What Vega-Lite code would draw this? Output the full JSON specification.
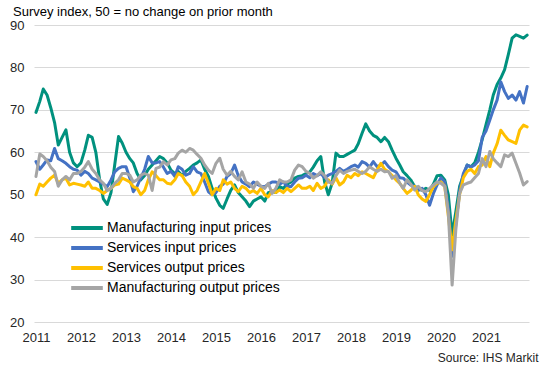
{
  "$schema": "https://vega.github.io/schema/vega-lite/v6.json",
  "width": 495,
  "height": 297,
  "autosize": {"type": "none"},
  "padding": {"left": 34, "top": 25, "right": 18, "bottom": 49},
  "background": "white",
  "title": {"text": "Survey index, 50 = no change on prior month", "anchor": "start", "frame": "group", "dx": -21, "offset": 0, "dy": 0, "font": "Liberation Sans", "fontSize": 13, "fontWeight": "normal", "color": "#000000"},
  "config": {"view": {"stroke": null}, "font": "Liberation Sans"},
  "data": {"values": [
    {"d":"2011-01-01","mi":69.4,"si":57.8,"so":50.0,"mo":54.3},
    {"d":"2011-02-01","mi":72.0,"si":56.0,"so":52.5,"mo":59.6},
    {"d":"2011-03-01","mi":74.9,"si":57.0,"so":52.0,"mo":59.0},
    {"d":"2011-04-01","mi":73.5,"si":58.2,"so":53.0,"mo":58.0},
    {"d":"2011-05-01","mi":70.5,"si":58.0,"so":53.9,"mo":56.5},
    {"d":"2011-06-01","mi":67.0,"si":60.9,"so":54.6,"mo":55.5},
    {"d":"2011-07-01","mi":61.7,"si":58.5,"so":52.7,"mo":52.0},
    {"d":"2011-08-01","mi":63.5,"si":58.0,"so":53.5,"mo":53.5},
    {"d":"2011-09-01","mi":65.3,"si":57.4,"so":53.9,"mo":54.3},
    {"d":"2011-10-01","mi":60.0,"si":56.6,"so":52.3,"mo":53.5},
    {"d":"2011-11-01","mi":57.5,"si":56.0,"so":52.7,"mo":55.0},
    {"d":"2011-12-01","mi":56.6,"si":55.8,"so":52.5,"mo":55.0},
    {"d":"2012-01-01","mi":57.5,"si":54.6,"so":52.3,"mo":55.5},
    {"d":"2012-02-01","mi":60.5,"si":55.5,"so":52.0,"mo":56.5},
    {"d":"2012-03-01","mi":64.0,"si":55.0,"so":53.0,"mo":57.8},
    {"d":"2012-04-01","mi":63.5,"si":53.9,"so":51.5,"mo":56.0},
    {"d":"2012-05-01","mi":60.0,"si":53.5,"so":51.5,"mo":55.0},
    {"d":"2012-06-01","mi":53.5,"si":53.0,"so":51.0,"mo":53.5},
    {"d":"2012-07-01","mi":49.0,"si":52.5,"so":50.3,"mo":52.7},
    {"d":"2012-08-01","mi":47.7,"si":51.9,"so":51.0,"mo":51.0},
    {"d":"2012-09-01","mi":50.5,"si":53.5,"so":51.5,"mo":51.5},
    {"d":"2012-10-01","mi":57.0,"si":55.4,"so":52.3,"mo":52.7},
    {"d":"2012-11-01","mi":63.7,"si":56.2,"so":52.5,"mo":53.5},
    {"d":"2012-12-01","mi":62.2,"si":56.6,"so":53.9,"mo":55.0},
    {"d":"2013-01-01","mi":60.0,"si":56.6,"so":53.5,"mo":55.0},
    {"d":"2013-02-01","mi":58.5,"si":53.9,"so":53.0,"mo":54.6},
    {"d":"2013-03-01","mi":57.5,"si":50.7,"so":51.9,"mo":53.0},
    {"d":"2013-04-01","mi":55.0,"si":52.0,"so":51.5,"mo":53.5},
    {"d":"2013-05-01","mi":53.5,"si":54.0,"so":50.0,"mo":54.6},
    {"d":"2013-06-01","mi":54.5,"si":56.0,"so":51.0,"mo":55.0},
    {"d":"2013-07-01","mi":56.0,"si":59.0,"so":53.5,"mo":54.6},
    {"d":"2013-08-01","mi":57.0,"si":57.5,"so":55.4,"mo":51.0},
    {"d":"2013-09-01","mi":58.0,"si":57.5,"so":54.5,"mo":56.2},
    {"d":"2013-10-01","mi":59.0,"si":57.8,"so":53.5,"mo":56.5},
    {"d":"2013-11-01","mi":58.5,"si":56.5,"so":53.5,"mo":57.8},
    {"d":"2013-12-01","mi":57.5,"si":55.0,"so":52.7,"mo":57.0},
    {"d":"2014-01-01","mi":55.8,"si":55.5,"so":52.5,"mo":58.2},
    {"d":"2014-02-01","mi":55.0,"si":54.3,"so":53.5,"mo":58.5},
    {"d":"2014-03-01","mi":55.5,"si":56.6,"so":55.0,"mo":59.8},
    {"d":"2014-04-01","mi":54.5,"si":56.0,"so":54.5,"mo":60.5},
    {"d":"2014-05-01","mi":55.5,"si":54.6,"so":53.0,"mo":60.0},
    {"d":"2014-06-01","mi":56.2,"si":55.0,"so":52.0,"mo":60.9},
    {"d":"2014-07-01","mi":57.0,"si":56.6,"so":50.0,"mo":60.5},
    {"d":"2014-08-01","mi":57.5,"si":55.4,"so":51.0,"mo":59.5},
    {"d":"2014-09-01","mi":58.2,"si":55.0,"so":53.0,"mo":58.6},
    {"d":"2014-10-01","mi":56.0,"si":53.0,"so":55.0,"mo":57.0},
    {"d":"2014-11-01","mi":54.3,"si":50.7,"so":52.7,"mo":55.8},
    {"d":"2014-12-01","mi":51.5,"si":50.0,"so":50.0,"mo":55.0},
    {"d":"2015-01-01","mi":49.2,"si":50.5,"so":51.5,"mo":57.4},
    {"d":"2015-02-01","mi":47.5,"si":52.0,"so":51.0,"mo":58.6},
    {"d":"2015-03-01","mi":46.8,"si":52.5,"so":53.5,"mo":56.0},
    {"d":"2015-04-01","mi":49.0,"si":54.3,"so":52.5,"mo":54.6},
    {"d":"2015-05-01","mi":51.0,"si":55.0,"so":53.0,"mo":55.5},
    {"d":"2015-06-01","mi":52.3,"si":57.0,"so":51.5,"mo":54.3},
    {"d":"2015-07-01","mi":50.5,"si":54.5,"so":50.7,"mo":53.5},
    {"d":"2015-08-01","mi":49.5,"si":53.0,"so":52.0,"mo":55.4},
    {"d":"2015-09-01","mi":48.5,"si":52.5,"so":51.5,"mo":53.0},
    {"d":"2015-10-01","mi":47.2,"si":51.9,"so":50.5,"mo":52.5},
    {"d":"2015-11-01","mi":48.5,"si":53.0,"so":51.0,"mo":51.5},
    {"d":"2015-12-01","mi":49.0,"si":52.5,"so":50.3,"mo":53.0},
    {"d":"2016-01-01","mi":49.5,"si":52.0,"so":51.5,"mo":52.0},
    {"d":"2016-02-01","mi":48.5,"si":51.9,"so":50.0,"mo":51.5},
    {"d":"2016-03-01","mi":50.5,"si":52.5,"so":49.5,"mo":52.7},
    {"d":"2016-04-01","mi":50.8,"si":53.0,"so":51.0,"mo":50.3},
    {"d":"2016-05-01","mi":50.5,"si":53.0,"so":50.5,"mo":51.5},
    {"d":"2016-06-01","mi":51.9,"si":52.5,"so":51.1,"mo":53.5},
    {"d":"2016-07-01","mi":51.5,"si":53.0,"so":50.5,"mo":53.0},
    {"d":"2016-08-01","mi":52.5,"si":52.0,"so":51.5,"mo":53.0},
    {"d":"2016-09-01","mi":53.0,"si":51.9,"so":50.7,"mo":53.5},
    {"d":"2016-10-01","mi":53.9,"si":53.0,"so":51.5,"mo":55.8},
    {"d":"2016-11-01","mi":54.3,"si":53.9,"so":52.3,"mo":57.0},
    {"d":"2016-12-01","mi":54.5,"si":54.0,"so":51.5,"mo":56.6},
    {"d":"2017-01-01","mi":55.0,"si":54.6,"so":51.5,"mo":55.5},
    {"d":"2017-02-01","mi":55.4,"si":54.0,"so":52.0,"mo":55.0},
    {"d":"2017-03-01","mi":56.5,"si":55.0,"so":51.0,"mo":53.9},
    {"d":"2017-04-01","mi":58.0,"si":54.5,"so":52.7,"mo":54.5},
    {"d":"2017-05-01","mi":59.0,"si":55.0,"so":51.5,"mo":55.4},
    {"d":"2017-06-01","mi":53.0,"si":54.0,"so":52.0,"mo":54.5},
    {"d":"2017-07-01","mi":50.0,"si":54.6,"so":53.5,"mo":53.0},
    {"d":"2017-08-01","mi":52.7,"si":55.0,"so":52.5,"mo":52.7},
    {"d":"2017-09-01","mi":59.8,"si":55.5,"so":54.0,"mo":54.5},
    {"d":"2017-10-01","mi":59.0,"si":56.2,"so":52.3,"mo":55.8},
    {"d":"2017-11-01","mi":59.0,"si":55.5,"so":53.0,"mo":55.0},
    {"d":"2017-12-01","mi":59.5,"si":56.0,"so":54.6,"mo":55.5},
    {"d":"2018-01-01","mi":60.0,"si":56.6,"so":54.0,"mo":55.8},
    {"d":"2018-02-01","mi":60.5,"si":57.0,"so":55.0,"mo":56.0},
    {"d":"2018-03-01","mi":62.0,"si":56.5,"so":54.5,"mo":55.5},
    {"d":"2018-04-01","mi":64.5,"si":57.8,"so":55.4,"mo":55.0},
    {"d":"2018-05-01","mi":66.7,"si":57.4,"so":55.0,"mo":55.5},
    {"d":"2018-06-01","mi":65.0,"si":56.5,"so":54.5,"mo":56.6},
    {"d":"2018-07-01","mi":64.0,"si":57.8,"so":54.0,"mo":56.0},
    {"d":"2018-08-01","mi":63.5,"si":56.6,"so":55.8,"mo":55.5},
    {"d":"2018-09-01","mi":62.5,"si":57.0,"so":57.4,"mo":56.0},
    {"d":"2018-10-01","mi":63.5,"si":57.8,"so":56.0,"mo":55.4},
    {"d":"2018-11-01","mi":62.5,"si":56.6,"so":55.4,"mo":55.5},
    {"d":"2018-12-01","mi":60.5,"si":55.8,"so":54.5,"mo":53.9},
    {"d":"2019-01-01","mi":58.6,"si":55.4,"so":53.5,"mo":54.5},
    {"d":"2019-02-01","mi":57.0,"si":54.0,"so":52.7,"mo":52.7},
    {"d":"2019-03-01","mi":55.4,"si":53.9,"so":51.5,"mo":51.5},
    {"d":"2019-04-01","mi":54.5,"si":53.0,"so":50.3,"mo":53.5},
    {"d":"2019-05-01","mi":53.5,"si":52.3,"so":51.0,"mo":52.5},
    {"d":"2019-06-01","mi":52.0,"si":52.0,"so":52.0,"mo":51.1},
    {"d":"2019-07-01","mi":51.5,"si":51.0,"so":50.0,"mo":52.0},
    {"d":"2019-08-01","mi":51.0,"si":51.5,"so":49.0,"mo":51.0},
    {"d":"2019-09-01","mi":51.5,"si":50.0,"so":48.4,"mo":50.7},
    {"d":"2019-10-01","mi":51.0,"si":47.5,"so":50.0,"mo":51.5},
    {"d":"2019-11-01","mi":52.5,"si":50.3,"so":51.9,"mo":52.3},
    {"d":"2019-12-01","mi":54.5,"si":52.3,"so":52.7,"mo":53.0},
    {"d":"2020-01-01","mi":54.6,"si":54.0,"so":53.0,"mo":52.7},
    {"d":"2020-02-01","mi":53.5,"si":53.0,"so":52.0,"mo":52.0},
    {"d":"2020-03-01","mi":50.0,"si":47.0,"so":45.0,"mo":45.7},
    {"d":"2020-04-01","mi":40.5,"si":35.5,"so":37.0,"mo":28.7},
    {"d":"2020-05-01","mi":46.0,"si":43.0,"so":44.0,"mo":41.7},
    {"d":"2020-06-01","mi":52.0,"si":51.0,"so":50.0,"mo":50.3},
    {"d":"2020-07-01","mi":54.5,"si":55.0,"so":54.0,"mo":52.3},
    {"d":"2020-08-01","mi":57.0,"si":57.0,"so":55.5,"mo":52.7},
    {"d":"2020-09-01","mi":56.6,"si":56.5,"so":56.0,"mo":53.0},
    {"d":"2020-10-01","mi":57.5,"si":57.0,"so":55.0,"mo":54.0},
    {"d":"2020-11-01","mi":60.0,"si":58.0,"so":56.6,"mo":55.0},
    {"d":"2020-12-01","mi":63.0,"si":63.5,"so":57.0,"mo":58.5},
    {"d":"2021-01-01","mi":66.5,"si":65.0,"so":59.0,"mo":56.6},
    {"d":"2021-02-01","mi":70.0,"si":67.6,"so":56.6,"mo":60.2},
    {"d":"2021-03-01","mi":73.5,"si":70.0,"so":59.8,"mo":58.5},
    {"d":"2021-04-01","mi":76.0,"si":72.3,"so":62.0,"mo":57.5},
    {"d":"2021-05-01","mi":77.5,"si":76.6,"so":65.2,"mo":56.6},
    {"d":"2021-06-01","mi":79.5,"si":74.3,"so":64.0,"mo":59.4},
    {"d":"2021-07-01","mi":83.0,"si":72.7,"so":62.9,"mo":59.0},
    {"d":"2021-08-01","mi":86.9,"si":73.5,"so":62.5,"mo":59.8},
    {"d":"2021-09-01","mi":87.7,"si":72.3,"so":62.1,"mo":57.4},
    {"d":"2021-10-01","mi":87.3,"si":74.3,"so":65.2,"mo":55.1},
    {"d":"2021-11-01","mi":86.9,"si":71.6,"so":66.4,"mo":52.3},
    {"d":"2021-12-01","mi":87.6,"si":75.5,"so":66.0,"mo":53.1}
  ]},
  "transform": [{"fold": ["mi", "si", "so", "mo"], "as": ["s", "v"]}],
  "mark": {"type": "line", "strokeWidth": 3, "strokeJoin": "round", "strokeCap": "round"},
  "encoding": {
    "x": {
      "field": "d", "type": "temporal",
      "scale": {"domain": [{"year": 2010, "month": 12, "date": 16}, {"year": 2021, "month": 12, "date": 16}]},
      "axis": {"format": "%Y", "tickCount": {"interval": "year", "step": 1}, "grid": false, "domain": false, "ticks": false, "labelPadding": 9, "labelFontSize": 13, "labelColor": "#262626", "labelFlush": false, "labelOverlap": false,
        "title": "Source: IHS Markit", "titleAnchor": "end", "titleAlign": "right", "titleX": 504, "titleY": 35, "titleBaseline": "middle", "titleFontSize": 12, "titleFontWeight": "normal", "titleColor": "#262626"}
    },
    "y": {
      "field": "v", "type": "quantitative",
      "scale": {"domain": [20, 90], "nice": false, "zero": false},
      "axis": {"values": [20, 30, 40, 50, 60, 70, 80, 90], "title": null, "domain": false, "ticks": false, "labelPadding": 10, "labelFontSize": 13, "labelColor": "#262626", "gridColor": "#D9D9D9", "gridWidth": 1}
    },
    "color": {
      "field": "s", "type": "nominal",
      "scale": {"domain": ["mi", "si", "so", "mo"], "range": ["#00917E", "#4472C4", "#FFC000", "#A5A5A5"]},
      "legend": {"title": null, "orient": "none", "legendX": 35, "legendY": 193, "symbolType": "stroke", "symbolStrokeWidth": 4, "symbolSize": 1000, "labelFontSize": 14, "labelColor": "#000000", "labelOffset": 2, "labelLimit": 400, "rowPadding": 0, "clipHeight": 20, "padding": 0,
        "labelExpr": "datum.label == 'mi' ? 'Manufacturing input prices' : datum.label == 'si' ? 'Services input prices' : datum.label == 'so' ? 'Services output prices' : 'Manufacturing output prices'"}
    }
  }
}
